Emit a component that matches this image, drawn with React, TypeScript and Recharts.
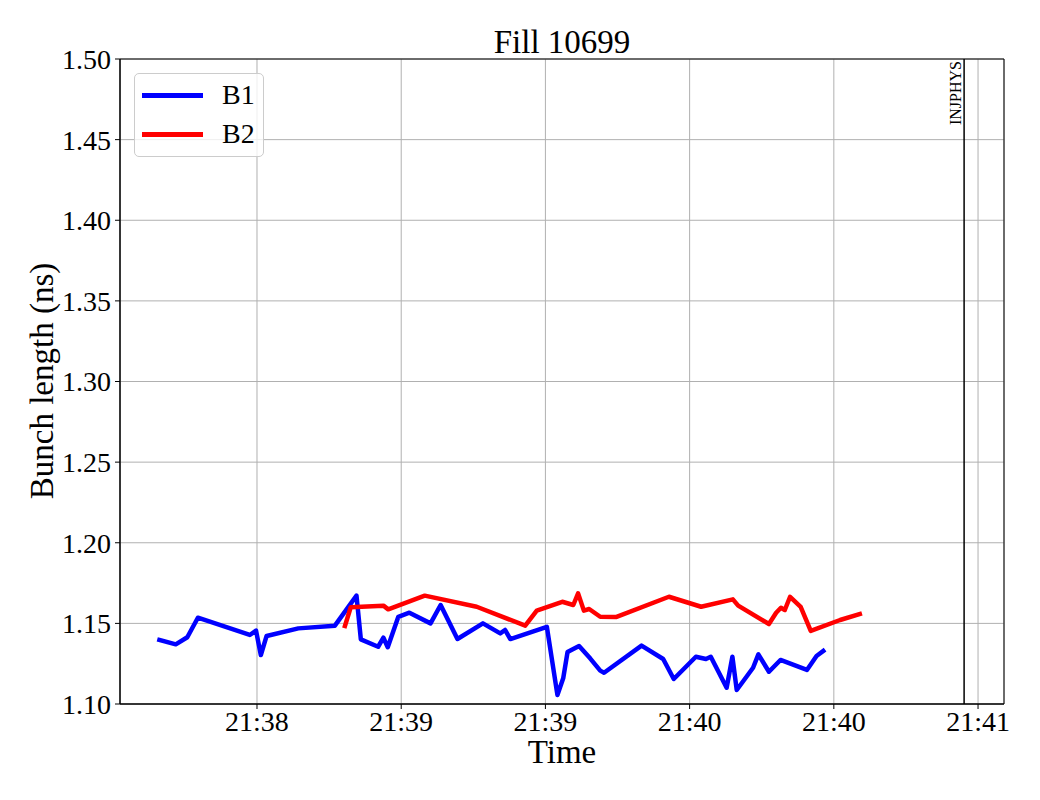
import React from 'react'
import { LineChart, Line, XAxis, YAxis, CartesianGrid, ReferenceLine, ReferenceArea, Legend } from 'recharts'

// seconds after 21:38:00
const b1Time = [-20.3, -16.9, -14.5, -12.3, -1.5, -0.2, 0.8, 2.0, 8.6, 16.2, 20.7, 21.6, 25.2, 26.3, 27.2, 29.4, 31.7, 36.1, 38.2, 41.7, 47.0, 50.6, 51.6, 52.7, 60.3, 62.5, 63.7, 64.6, 67.0, 69.3, 71.4, 72.2, 80.0, 84.5, 86.7, 91.3, 93.4, 94.4, 97.7, 98.9, 99.8, 103.2, 104.3, 106.5, 108.9, 114.4, 116.4, 117.8]
const b1Len = [1.1397, 1.137, 1.1414, 1.1535, 1.1428, 1.1455, 1.1304, 1.1422, 1.1469, 1.1486, 1.1672, 1.1401, 1.1355, 1.1411, 1.1352, 1.1541, 1.1566, 1.15, 1.1614, 1.1403, 1.15, 1.1438, 1.1459, 1.1403, 1.1479, 1.1056, 1.1159, 1.1322, 1.136, 1.1283, 1.1207, 1.1194, 1.1362, 1.1279, 1.1155, 1.1293, 1.1279, 1.1293, 1.1101, 1.1293, 1.1087, 1.1225, 1.1308, 1.12, 1.1273, 1.1211, 1.1298, 1.1329]

const b2Time = [18.3, 19.5, 26.3, 27.3, 34.9, 45.7, 55.8, 58.2, 63.5, 65.8, 66.8, 68.0, 69.1, 71.4, 74.8, 85.7, 92.4, 99.0, 100.1, 106.5, 108.0, 109.0, 109.8, 110.9, 113.1, 115.2, 121.3, 125.4]
const b2Len = [1.1484, 1.16, 1.161, 1.1587, 1.1672, 1.1603, 1.1486, 1.1579, 1.1634, 1.1614, 1.1686, 1.1579, 1.1589, 1.1541, 1.154, 1.1665, 1.1603, 1.1649, 1.161, 1.1496, 1.1566, 1.1597, 1.1583, 1.1665, 1.1603, 1.1453, 1.1521, 1.1558]

const xTicks = [0, 30, 60, 90, 120, 150]
const xTickLabels = ['21:38', '21:39', '21:39', '21:40', '21:40', '21:41']
const yTicks = [1.1, 1.15, 1.2, 1.25, 1.3, 1.35, 1.4, 1.45, 1.5]
const xDomain: [number, number] = [-28.5, 155.4]
const yDomain: [number, number] = [1.1, 1.5]

const eventTime = 147.1
const eventName = 'INJPHYS'

const series = [
  { name: 'B1', color: '#0000ff', t: b1Time, v: b1Len },
  { name: 'B2', color: '#ff0000', t: b2Time, v: b2Len },
]

const FONT = '"Liberation Serif", "DejaVu Serif", serif'

function LegendBox() {
  return (
    <div style={{
      width: 130, height: 84, border: '1px solid #cccccc', borderRadius: 5,
      background: 'rgba(255,255,255,0.8)', fontFamily: FONT, fontSize: 28, boxSizing: 'border-box',
      position: 'relative',
    }}>
      {series.map((s, i) => (
        <div key={s.name} style={{ position: 'absolute', left: 7, top: 4 + i * 39, height: 34, display: 'flex', alignItems: 'center' }}>
          <div style={{ width: 61, height: 5, background: s.color }} />
          <span style={{ marginLeft: 19, lineHeight: '34px' }}>{s.name}</span>
        </div>
      ))}
    </div>
  )
}

export default function App() {
  const tick = { fill: '#000', fontSize: 28, fontFamily: FONT }
  return (
    <div style={{ position: 'absolute', left: 0, top: 0, width: 1040, height: 800, background: '#fff' }}>
      <div style={{ position: 'absolute', left: 0, width: 1124, top: 22, textAlign: 'center', fontFamily: FONT, fontSize: 33, lineHeight: '40px' }}>
        Fill 10699
      </div>
      <div style={{ position: 'absolute', left: 0, width: 1124, top: 740, textAlign: 'center', fontFamily: FONT, fontSize: 33, lineHeight: '24px' }}>
        Time
      </div>
      <div style={{
        position: 'absolute', left: 42, top: 381, transform: 'translate(-50%, -50%) rotate(-90deg)',
        fontFamily: FONT, fontSize: 33, whiteSpace: 'nowrap', lineHeight: '40px',
      }}>
        Bunch length (ns)
      </div>
      <LineChart width={1040} height={800} margin={{ top: 59, right: 36, bottom: 0, left: 0 }}>
        <CartesianGrid stroke="#b0b0b0" strokeWidth={1} />
        <XAxis
          type="number"
          dataKey="t"
          domain={xDomain}
          allowDataOverflow
          ticks={xTicks}
          tickFormatter={(v: number) => xTickLabels[xTicks.indexOf(v)] ?? ''}
          tick={tick}
          tickSize={5}
          tickMargin={2}
          height={96}
          axisLine={{ stroke: '#000', strokeWidth: 1 }}
          tickLine={{ stroke: '#000' }}
        />
        <YAxis
          type="number"
          domain={yDomain}
          allowDataOverflow
          ticks={yTicks}
          tickFormatter={(v: number) => v.toFixed(2)}
          tick={tick}
          tickSize={5}
          tickMargin={4}
          width={120}
          axisLine={{ stroke: '#000', strokeWidth: 1 }}
          tickLine={{ stroke: '#000' }}
        />
        <ReferenceArea x1={xDomain[0]} x2={xDomain[1]} y1={yDomain[0]} y2={yDomain[1]} fill="none" stroke="#000" strokeWidth={1} />
        <ReferenceLine
          x={eventTime}
          stroke="#000"
          strokeWidth={1.5}
          label={(p: any) => {
            const vb = p.viewBox
            const x = vb.x - 9
            const y = vb.y + 2
            return (
              <text x={x} y={y} transform={`rotate(-90 ${x} ${y})`} textAnchor="end" dominantBaseline="central"
                fontFamily={FONT} fontSize={16} fill="#000">{eventName}</text>
            )
          }}
        />
        {series.map(s => (
          <Line
            key={s.name}
            name={s.name}
            data={s.t.map((t, i) => ({ t, v: s.v[i] }))}
            dataKey="v"
            stroke={s.color}
            strokeWidth={4.5}
            strokeLinejoin="round"
            strokeLinecap="square"
            dot={false}
            activeDot={false}
            isAnimationActive={false}
          />
        ))}
        <Legend
          layout="vertical"
          align="center"
          verticalAlign="middle"
          wrapperStyle={{ left: 134, top: 73, width: 130, height: 84 }}
          content={() => <LegendBox />}
        />
      </LineChart>
    </div>
  )
}
